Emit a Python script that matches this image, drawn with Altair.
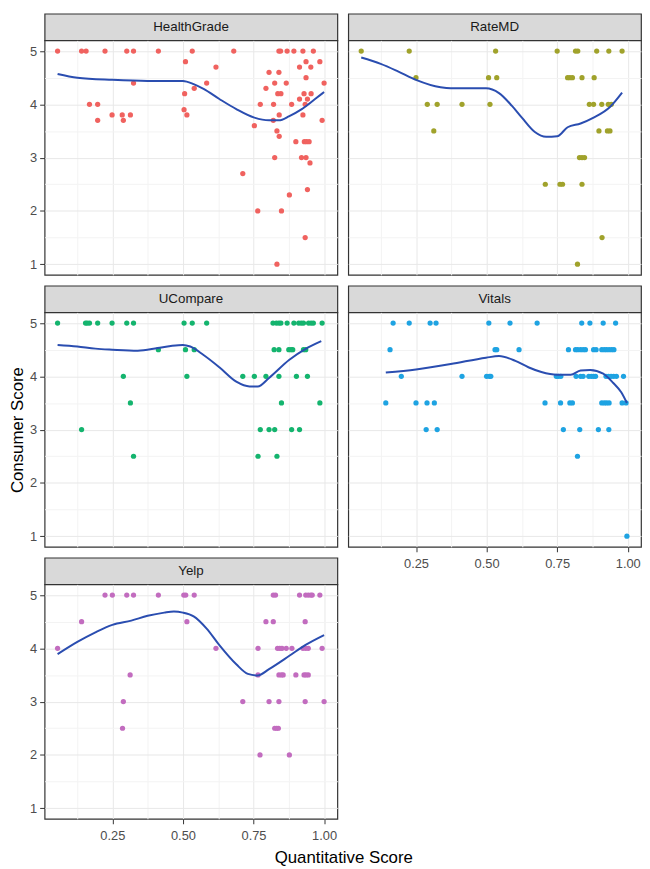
import altair as alt
import pandas as pd

FONT = "Liberation Sans"

sites = ["HealthGrade", "RateMD", "UCompare", "Vitals", "Yelp"]
site_colors = ["#f0625f", "#a0a22b", "#14b46e", "#1ea3e2", "#c26cbf"]
smooth_color = "#2a4db0"

# (Quantitative Score, Consumer Score)
healthgrade_pts = [
    (0.056, 5), (0.141, 5), (0.157, 5), (0.224, 5), (0.301, 5), (0.325, 5), (0.413, 5),
    (0.533, 5), (0.680, 5), (0.840, 5), (0.846, 5), (0.869, 5), (0.893, 5), (0.925, 5), (0.962, 5),
    (0.509, 4.8), (0.936, 4.8), (0.985, 4.8),
    (0.617, 4.7), (0.913, 4.7), (0.953, 4.7),
    (0.805, 4.6), (0.840, 4.6),
    (0.936, 4.5),
    (0.325, 4.4), (0.584, 4.4), (0.825, 4.4), (0.866, 4.4), (1.000, 4.4),
    (0.540, 4.3), (0.794, 4.3),
    (0.506, 4.2), (0.836, 4.2), (0.847, 4.2), (0.929, 4.2), (0.954, 4.2),
    (0.913, 4.1), (0.941, 4.1),
    (0.169, 4.0), (0.198, 4.0), (0.774, 4.0), (0.821, 4.0), (0.885, 4.0), (0.933, 4.0),
    (0.504, 3.9),
    (0.249, 3.8), (0.285, 3.8), (0.314, 3.8), (0.514, 3.8), (0.841, 3.8), (0.925, 3.8),
    (0.198, 3.7), (0.289, 3.7), (0.820, 3.7), (0.993, 3.7),
    (0.753, 3.6), (0.833, 3.5), (0.841, 3.4),
    (0.900, 3.3), (0.930, 3.3), (0.938, 3.3), (0.947, 3.3),
    (0.825, 3.0), (0.920, 3.0), (0.936, 3.0),
    (0.950, 2.9), (0.712, 2.7), (0.941, 2.4), (0.877, 2.3),
    (0.765, 2.0), (0.849, 2.0),
    (0.933, 1.5), (0.833, 1.0),
]
ratemd_pts = [
    (0.056, 5), (0.226, 5), (0.532, 5), (0.750, 5), (0.815, 5), (0.823, 5), (0.890, 5), (0.933, 5), (0.980, 5),
    (0.250, 4.5), (0.507, 4.5), (0.536, 4.5), (0.787, 4.5), (0.795, 4.5), (0.804, 4.5), (0.838, 4.5), (0.881, 4.5),
    (0.290, 4.0), (0.325, 4.0), (0.413, 4.0), (0.512, 4.0), (0.864, 4.0), (0.879, 4.0), (0.908, 4.0), (0.931, 4.0), (0.942, 4.0),
    (0.313, 3.5), (0.898, 3.5), (0.928, 3.5), (0.937, 3.5),
    (0.829, 3.0), (0.838, 3.0), (0.847, 3.0),
    (0.708, 2.5), (0.760, 2.5), (0.769, 2.5), (0.838, 2.5),
    (0.909, 1.5), (0.822, 1.0),
]
ucompare_pts = [
    (0.056, 5), (0.155, 5), (0.161, 5), (0.169, 5), (0.198, 5), (0.249, 5), (0.301, 5), (0.325, 5),
    (0.504, 5), (0.533, 5), (0.584, 5), (0.819, 5), (0.831, 5), (0.840, 5), (0.847, 5), (0.869, 5),
    (0.893, 5), (0.910, 5), (0.919, 5), (0.927, 5), (0.945, 5), (0.954, 5), (0.962, 5), (0.993, 5),
    (0.413, 4.5), (0.509, 4.5), (0.540, 4.5), (0.823, 4.5), (0.840, 4.5), (0.875, 4.5), (0.883, 4.5),
    (0.889, 4.5), (0.927, 4.5), (0.935, 4.5),
    (0.289, 4.0), (0.514, 4.0), (0.712, 4.0), (0.753, 4.0), (0.794, 4.0), (0.840, 4.0), (0.902, 4.0), (0.941, 4.0),
    (0.314, 3.5), (0.849, 3.5), (0.985, 3.5),
    (0.141, 3.0), (0.774, 3.0), (0.805, 3.0), (0.825, 3.0), (0.885, 3.0), (0.913, 3.0),
    (0.325, 2.5), (0.766, 2.5), (0.833, 2.5),
]
vitals_pts = [
    (0.169, 5), (0.226, 5), (0.300, 5), (0.321, 5), (0.508, 5), (0.583, 5), (0.679, 5), (0.837, 5),
    (0.866, 5), (0.913, 5), (0.957, 5),
    (0.158, 4.5), (0.530, 4.5), (0.536, 4.5), (0.615, 4.5), (0.790, 4.5), (0.815, 4.5), (0.823, 4.5),
    (0.833, 4.5), (0.842, 4.5), (0.850, 4.5), (0.879, 4.5), (0.888, 4.5), (0.908, 4.5), (0.917, 4.5),
    (0.925, 4.5), (0.934, 4.5), (0.943, 4.5), (0.951, 4.5),
    (0.198, 4.0), (0.413, 4.0), (0.500, 4.0), (0.510, 4.0), (0.515, 4.0), (0.747, 4.0), (0.754, 4.0),
    (0.763, 4.0), (0.817, 4.0), (0.833, 4.0), (0.842, 4.0), (0.862, 4.0), (0.871, 4.0), (0.879, 4.0),
    (0.886, 4.0), (0.923, 4.0), (0.932, 4.0), (0.941, 4.0), (0.950, 4.0), (0.960, 4.0), (0.985, 4.0),
    (0.143, 3.5), (0.250, 3.5), (0.289, 3.5), (0.315, 3.5), (0.707, 3.5), (0.762, 3.5), (0.795, 3.5),
    (0.804, 3.5), (0.908, 3.5), (0.917, 3.5), (0.925, 3.5), (0.934, 3.5), (0.980, 3.5), (0.994, 3.5),
    (0.286, 3.0), (0.325, 3.0), (0.772, 3.0), (0.830, 3.0), (0.896, 3.0), (0.933, 3.0),
    (0.822, 2.5), (0.997, 1.0),
]
yelp_pts = [
    (0.224, 5), (0.250, 5), (0.301, 5), (0.325, 5), (0.413, 5), (0.503, 5), (0.510, 5), (0.540, 5),
    (0.820, 5), (0.828, 5), (0.913, 5), (0.935, 5), (0.944, 5), (0.953, 5), (0.958, 5), (0.985, 5),
    (0.141, 4.5), (0.514, 4.5), (0.794, 4.5), (0.820, 4.5), (0.933, 4.5),
    (0.056, 4.0), (0.617, 4.0), (0.766, 4.0), (0.835, 4.0), (0.843, 4.0), (0.851, 4.0), (0.866, 4.0),
    (0.886, 4.0), (0.925, 4.0), (0.935, 4.0), (0.944, 4.0), (0.993, 4.0),
    (0.313, 3.5), (0.766, 3.5), (0.840, 3.5), (0.849, 3.5), (0.855, 3.5), (0.900, 3.5), (0.929, 3.5),
    (0.936, 3.5), (0.944, 3.5),
    (0.289, 3.0), (0.712, 3.0), (0.805, 3.0), (0.840, 3.0), (0.933, 3.0), (1.000, 3.0),
    (0.286, 2.5), (0.825, 2.5), (0.832, 2.5), (0.838, 2.5),
    (0.773, 2.0), (0.877, 2.0),
]

# smoothed (loess) curves
healthgrade_smooth = [
    (0.056, 4.57), (0.126, 4.50), (0.25, 4.46), (0.375, 4.44), (0.5, 4.44), (0.538, 4.38), (0.573, 4.29),
    (0.629, 4.10), (0.689, 3.91), (0.753, 3.75), (0.805, 3.70), (0.84, 3.70), (0.877, 3.78), (0.921, 3.91),
    (0.968, 4.10), (1.0, 4.23),
]
ratemd_smooth = [
    (0.056, 4.88), (0.125, 4.76), (0.186, 4.62), (0.25, 4.46), (0.337, 4.32), (0.373, 4.30), (0.498, 4.30),
    (0.544, 4.21), (0.59, 3.97), (0.625, 3.75), (0.671, 3.48), (0.711, 3.39), (0.75, 3.40), (0.787, 3.57),
    (0.833, 3.64), (0.879, 3.75), (0.937, 3.95), (0.98, 4.22),
]
ucompare_smooth = [
    (0.056, 4.59), (0.126, 4.56), (0.19, 4.52), (0.25, 4.50), (0.34, 4.48), (0.41, 4.53), (0.457, 4.57),
    (0.5, 4.59), (0.526, 4.56), (0.573, 4.40), (0.629, 4.17), (0.689, 3.90), (0.736, 3.81), (0.765, 3.81),
    (0.805, 3.97), (0.877, 4.31), (0.933, 4.51), (0.99, 4.66),
]
vitals_smooth = [
    (0.143, 4.07), (0.25, 4.13), (0.373, 4.23), (0.498, 4.35), (0.544, 4.38), (0.602, 4.29), (0.648, 4.17),
    (0.694, 4.08), (0.75, 4.03), (0.798, 4.03), (0.833, 4.11), (0.867, 4.12), (0.913, 4.05), (0.948, 3.88),
    (0.977, 3.70), (0.997, 3.50),
]
yelp_smooth = [
    (0.056, 3.89), (0.126, 4.12), (0.19, 4.30), (0.25, 4.44), (0.317, 4.52), (0.375, 4.61), (0.434, 4.67),
    (0.468, 4.69), (0.5, 4.67), (0.538, 4.60), (0.584, 4.37), (0.629, 4.06), (0.689, 3.70), (0.73, 3.52),
    (0.765, 3.49), (0.805, 3.61), (0.877, 3.86), (0.933, 4.06), (1.0, 4.25),
]

x_ticks = [0.125, 0.25, 0.375, 0.5, 0.625, 0.75, 0.875, 1.0]
y_ticks = [1, 1.5, 2, 2.5, 3, 3.5, 4, 4.5, 5]
x_domain = [0.01, 1.047]
y_domain = [0.8, 5.2]

W, H, SH, GAP = 296, 237, 27, 11
BORDER = "#333333"


def strip(name):
    return (
        alt.Chart(pd.DataFrame({"site": [name]}))
        .mark_text(font=FONT, fontSize=13.5, color="#1a1a1a")
        .encode(text="site:N")
        .properties(width=W, height=SH,
                    view=alt.ViewBackground(fill="#d9d9d9", stroke=BORDER, strokeWidth=1.2))
    )


def spacer(h):
    return (
        alt.Chart(pd.DataFrame({"a": [0]}))
        .mark_point(opacity=0)
        .properties(width=W, height=h,
                    view=alt.ViewBackground(fill="transparent", stroke="transparent"))
    )


def plot(pts, smooth, color, show_x, show_y, ytitle=None, xtitle=None):
    xa = dict(values=x_ticks, grid=True, domain=False, labels=show_x, ticks=show_x,
              labelExpr="datum.value * 4 % 1 == 0 ? format(datum.value, '.2f') : ''",
              gridColor={"condition": {"test": "datum.value * 4 % 1 != 0", "value": "#f3f3f3"},
                         "value": "#e8e8e8"},
              tickOpacity={"condition": {"test": "datum.value * 4 % 1 != 0", "value": 0}, "value": 1})
    if xtitle:
        xa.update(title=xtitle, titleX=302, titlePadding=7)
    else:
        xa.update(title=None)
    ya = dict(values=y_ticks, grid=True, domain=False, labels=show_y, ticks=show_y,
              labelExpr="datum.value % 1 == 0 ? format(datum.value, 'd') : ''",
              gridColor={"condition": {"test": "datum.value % 1 != 0", "value": "#f3f3f3"},
                         "value": "#e8e8e8"},
              tickOpacity={"condition": {"test": "datum.value % 1 != 0", "value": 0}, "value": 1})
    if ytitle:
        ya.update(title=ytitle, titlePadding=3)
    else:
        ya.update(title=None)

    xenc = alt.X("x:Q", scale=alt.Scale(domain=x_domain, nice=False, zero=False), axis=alt.Axis(**xa))
    yenc = alt.Y("y:Q", scale=alt.Scale(domain=y_domain, nice=False, zero=False), axis=alt.Axis(**ya))

    points = (
        alt.Chart(pd.DataFrame(pts, columns=["x", "y"]))
        .mark_circle(size=28, opacity=1, color=color)
        .encode(x=xenc, y=yenc)
    )
    line = (
        alt.Chart(pd.DataFrame(smooth, columns=["x", "y"]))
        .mark_line(color=smooth_color, strokeWidth=2, interpolate="monotone")
        .encode(x=xenc, y=yenc)
    )
    return alt.layer(points, line).properties(
        width=W, height=H, view=alt.ViewBackground(fill="white", stroke=BORDER, strokeWidth=1.2)
    )


cells = [
    strip(sites[0]), strip(sites[1]),
    plot(healthgrade_pts, healthgrade_smooth, site_colors[0], False, True),
    plot(ratemd_pts, ratemd_smooth, site_colors[1], False, False),
    spacer(GAP), spacer(GAP),
    strip(sites[2]), strip(sites[3]),
    plot(ucompare_pts, ucompare_smooth, site_colors[2], False, True, ytitle="Consumer Score"),
    plot(vitals_pts, vitals_smooth, site_colors[3], True, False),
    spacer(GAP), spacer(GAP),
    strip(sites[4]), spacer(SH),
    plot(yelp_pts, yelp_smooth, site_colors[4], True, True, xtitle="Quantitative Score"),
]

chart = (
    alt.concat(*cells, columns=2, spacing={"row": 0, "column": 11}, bounds="flush")
    .properties(padding=0, background="white")
    .configure_axis(
        labelFont=FONT, labelFontSize=13, labelColor="#4d4d4d",
        tickColor=BORDER, tickSize=5, tickWidth=1,
        titleFont=FONT, titleFontSize=17, titleColor="black", titleFontWeight="normal",
    )
    .configure_axisX(labelPadding=6)
    .configure_axisY(labelPadding=3)
    .configure_view(stroke=BORDER)
)

chart.save("out.html", embed_options={"renderer": "svg", "actions": False})
